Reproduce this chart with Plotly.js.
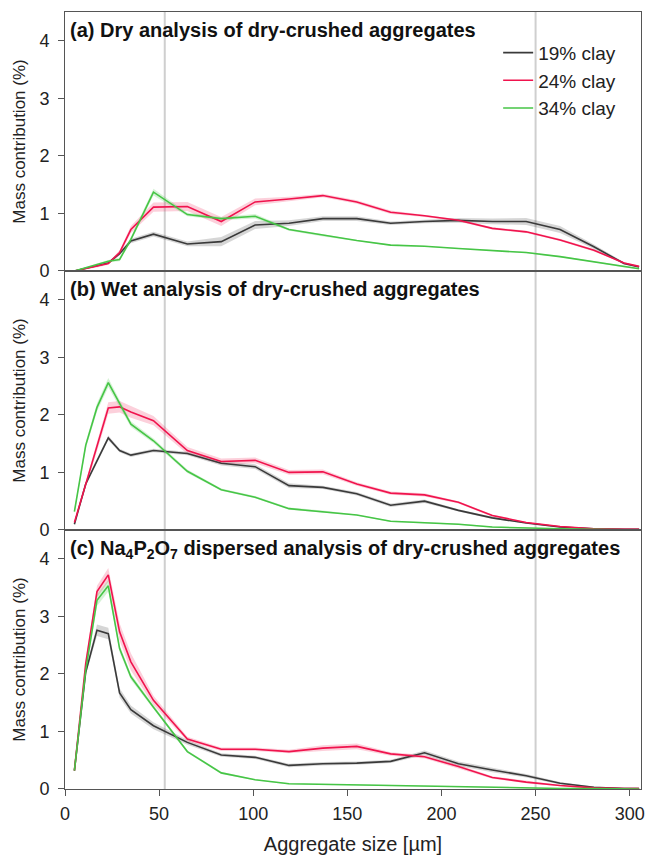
<!DOCTYPE html>
<html>
<head>
<meta charset="utf-8">
<script src="https://cdn.plot.ly/plotly-3.0.1.min.js"></script>
<style>html,body{margin:0;padding:0;background:#fff;}#chart{width:650px;height:857px;}</style>
</head>
<body>
<div id="chart"></div>
<script>
// Aggregate size grid (µm)
const sizes = [5, 11, 17, 23, 29, 35, 47, 65, 83, 101, 119, 137, 155, 173, 191, 209, 227, 245, 263, 281, 297, 305];
const seriesNames = ["19% clay", "24% clay", "34% clay"];
const refLines = [53, 250];
const panelTitles = [
  "(a) Dry analysis of dry-crushed aggregates",
  "(b) Wet analysis of dry-crushed aggregates",
  "(c) Na<sub>4</sub>P<sub>2</sub>O<sub>7</sub> dispersed analysis of dry-crushed aggregates"
];
const yTickVals = [0, 1, 2, 3, 4];
const xTickVals = [0, 50, 100, 150, 200, 250, 300];

// (a) Dry analysis
const dry19 = [0, 0.05, 0.10, 0.14, 0.30, 0.52, 0.64, 0.47, 0.51, 0.80, 0.83, 0.91, 0.91, 0.83, 0.86, 0.88, 0.86, 0.86, 0.72, 0.42, 0.13, 0.07];
const dry24 = [0, 0.04, 0.08, 0.13, 0.32, 0.72, 1.11, 1.12, 0.86, 1.20, 1.25, 1.31, 1.20, 1.02, 0.96, 0.88, 0.74, 0.68, 0.54, 0.36, 0.14, 0.08];
const dry34 = [0, 0.06, 0.11, 0.17, 0.20, 0.55, 1.37, 0.98, 0.91, 0.95, 0.72, 0.62, 0.53, 0.45, 0.43, 0.39, 0.36, 0.32, 0.25, 0.16, 0.07, 0.04];
const dry19se = [0.01,0.01,0.02,0.02,0.03,0.04,0.04,0.04,0.08,0.07,0.05,0.04,0.04,0.03,0.03,0.04,0.05,0.06,0.06,0.04,0.02,0.01];
const dry24se = [0.01,0.01,0.02,0.02,0.04,0.06,0.08,0.08,0.08,0.06,0.04,0.03,0.03,0.03,0.02,0.02,0.02,0.02,0.02,0.02,0.01,0.01];
const dry34se = [0.01,0.01,0.01,0.02,0.03,0.04,0.06,0.03,0.03,0.04,0.02,0.02,0.01,0.01,0.01,0.01,0.01,0.01,0.01,0.01,0.01,0.01];

// (b) Wet analysis
const wet19 = [0.10, 0.80, 1.20, 1.60, 1.38, 1.30, 1.38, 1.33, 1.16, 1.10, 0.77, 0.74, 0.63, 0.43, 0.50, 0.34, 0.21, 0.12, 0.05, 0.02, 0.01, 0.01];
const wet24 = [0.13, 0.80, 1.45, 2.12, 2.14, 2.05, 1.90, 1.38, 1.19, 1.21, 1.00, 1.01, 0.80, 0.64, 0.61, 0.48, 0.25, 0.13, 0.06, 0.02, 0.01, 0.01];
const wet34 = [0.32, 1.47, 2.13, 2.56, 2.20, 1.84, 1.55, 1.02, 0.70, 0.57, 0.37, 0.32, 0.26, 0.15, 0.13, 0.10, 0.05, 0.03, 0.02, 0.01, 0.00, 0.00];
const wet19se = [0.02,0.03,0.04,0.04,0.03,0.03,0.03,0.03,0.04,0.04,0.04,0.03,0.03,0.03,0.03,0.02,0.02,0.01,0.01,0.01,0.01,0.01];
const wet24se = [0.02,0.05,0.08,0.10,0.10,0.10,0.08,0.06,0.05,0.05,0.04,0.04,0.03,0.03,0.03,0.02,0.02,0.01,0.01,0.01,0.01,0.01];
const wet34se = [0.03,0.06,0.07,0.08,0.06,0.05,0.04,0.03,0.02,0.02,0.02,0.02,0.01,0.01,0.01,0.01,0.01,0.01,0.01,0.01,0.01,0.01];

// (c) Na4P2O7 dispersed analysis
const disp19 = [0.32, 2.03, 2.76, 2.70, 1.67, 1.38, 1.10, 0.81, 0.59, 0.55, 0.41, 0.44, 0.45, 0.48, 0.63, 0.44, 0.33, 0.23, 0.10, 0.03, 0.01, 0.01];
const disp24 = [0.32, 2.18, 3.43, 3.72, 2.73, 2.21, 1.54, 0.87, 0.69, 0.69, 0.65, 0.71, 0.74, 0.61, 0.56, 0.39, 0.20, 0.12, 0.06, 0.02, 0.01, 0.01];
const disp34 = [0.32, 2.06, 3.28, 3.53, 2.44, 1.95, 1.42, 0.65, 0.28, 0.16, 0.09, 0.08, 0.06, 0.05, 0.05, 0.04, 0.03, 0.02, 0.01, 0.01, 0.00, 0.00];
const disp19se = [0.02,0.05,0.10,0.10,0.08,0.07,0.06,0.04,0.03,0.03,0.03,0.03,0.03,0.03,0.04,0.04,0.04,0.03,0.02,0.01,0.01,0.01];
const disp24se = [0.02,0.06,0.10,0.12,0.15,0.15,0.08,0.04,0.03,0.03,0.03,0.05,0.05,0.03,0.03,0.03,0.02,0.02,0.01,0.01,0.01,0.01];
const disp34se = [0.02,0.06,0.10,0.10,0.06,0.05,0.04,0.02,0.02,0.01,0.01,0.01,0.01,0.01,0.01,0.01,0.01,0.01,0.01,0.01,0.01,0.01];

const lineColors = ["#3a3a3a", "#f0134d", "#46c546"];
const bandColors = ["rgba(0,0,0,0.16)", "rgba(240,19,77,0.20)", "rgba(70,197,70,0.22)"];

const panels = [
  {ys: [dry19, dry24, dry34], se: [dry19se, dry24se, dry34se]},
  {ys: [wet19, wet24, wet34], se: [wet19se, wet24se, wet34se]},
  {ys: [disp19, disp24, disp34], se: [disp19se, disp24se, disp34se]}
];

const traces = [];
panels.forEach((p, pi) => {
  const xa = pi === 0 ? "x" : "x" + (pi + 1);
  const ya = pi === 0 ? "y" : "y" + (pi + 1);
  p.ys.forEach((ys, si) => {
    const up = ys.map((v, i) => v + p.se[si][i]);
    const lo = ys.map((v, i) => Math.max(0, v - p.se[si][i]));
    traces.push({
      x: sizes.concat(sizes.slice().reverse()),
      y: up.concat(lo.slice().reverse()),
      xaxis: xa, yaxis: ya, type: "scatter", mode: "lines",
      fill: "toself", fillcolor: bandColors[si], line: {width: 0},
      hoverinfo: "skip", showlegend: false
    });
  });
  p.ys.forEach((ys, si) => {
    traces.push({
      x: sizes, y: ys, xaxis: xa, yaxis: ya, type: "scatter", mode: "lines",
      name: seriesNames[si], line: {color: lineColors[si], width: 1.6},
      showlegend: pi === 0
    });
  });
});

const font = "Arial, 'Liberation Sans', sans-serif";
const axisColor = "#555";
function yAxis(domain, anchor) {
  return {
    domain: domain, anchor: anchor, range: [0, 4.5], tickvals: yTickVals,
    ticks: "outside", ticklen: 6, tickcolor: axisColor, ticklabelstandoff: 5,
    showline: true, mirror: true,
    linecolor: axisColor, linewidth: 1, showgrid: false, zeroline: false,
    tickfont: {family: font, size: 18, color: "#222"},
    title: {text: "Mass contribution (%)", font: {family: font, size: 17, color: "#222"}, standoff: 9}
  };
}
function xAxis(anchor, bottom) {
  return {
    domain: [0, 1], anchor: anchor, range: [0, 306], tickvals: xTickVals,
    showticklabels: bottom, ticks: bottom ? "outside" : "", ticklen: 6, tickcolor: axisColor,
    ticklabelstandoff: 2,
    showline: true, mirror: true, linecolor: axisColor, linewidth: 1,
    showgrid: false, zeroline: false,
    tickfont: {family: font, size: 18, color: "#222"},
    title: bottom ? {text: "Aggregate size [µm]", font: {family: font, size: 20, color: "#222"}, standoff: 14} : {text: ""}
  };
}

const annotations = panelTitles.map((t, i) => ({
  text: "<b>" + t + "</b>", xref: "paper", yref: i === 0 ? "y domain" : "y" + (i + 1) + " domain",
  x: 0.005, y: 0.98, xanchor: "left", yanchor: "top", showarrow: false,
  font: {family: font, size: 20, color: "#111"}
}));

const shapes = refLines.map(v => ({
  type: "line", xref: "x", yref: "paper", x0: v, x1: v, y0: 0, y1: 1,
  line: {color: "#cfcfcf", width: 2}, layer: "below"
}));

const layout = {
  width: 650, height: 857,
  margin: {l: 65, r: 9, t: 12, b: 68},
  paper_bgcolor: "#fff", plot_bgcolor: "#fff",
  showlegend: true,
  legend: {x: 0.752, y: 0.972, xanchor: "left", yanchor: "top",
    font: {family: font, size: 19, color: "#222"}, bgcolor: "rgba(0,0,0,0)", itemwidth: 30, tracegroupgap: 0},
  xaxis: xAxis("y", false),
  xaxis2: xAxis("y2", false),
  xaxis3: xAxis("y3", true),
  yaxis: yAxis([0.6667, 1], "x"),
  yaxis2: yAxis([0.3334, 0.6666], "x2"),
  yaxis3: yAxis([0, 0.3333], "x3"),
  annotations: annotations,
  shapes: shapes
};

Plotly.newPlot("chart", traces, layout, {displayModeBar: false, staticPlot: true});
</script>
</body>
</html>
